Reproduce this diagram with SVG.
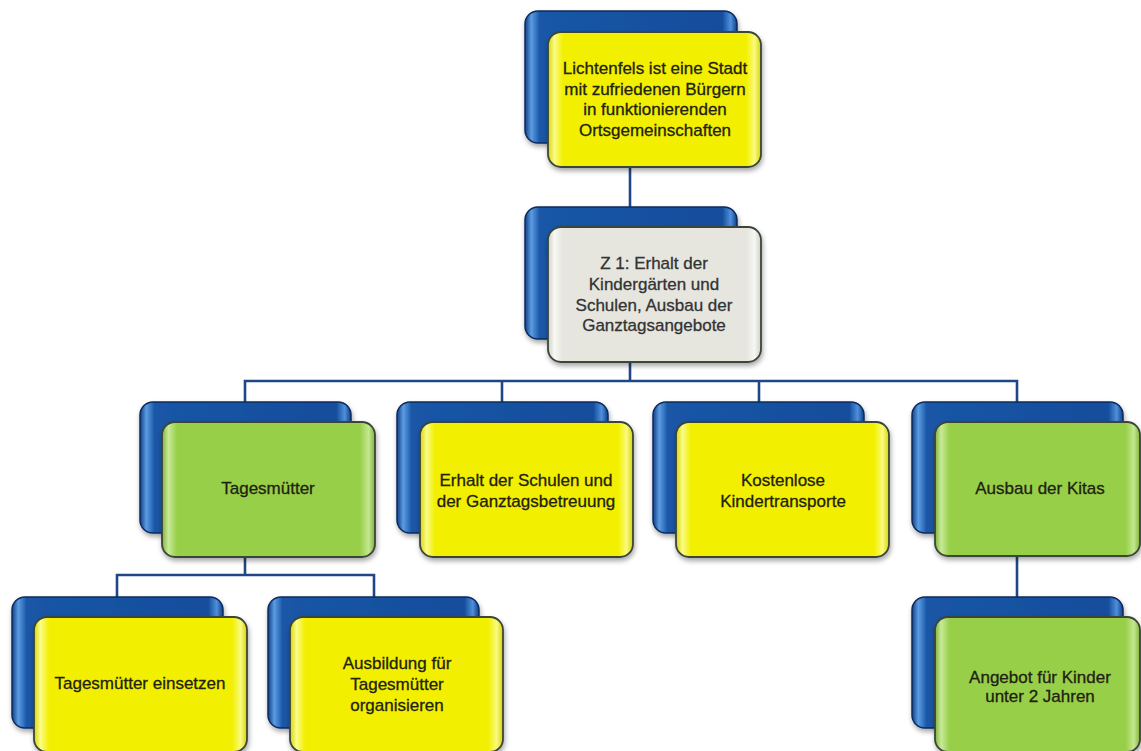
<svg xmlns="http://www.w3.org/2000/svg" width="1141" height="751" viewBox="0 0 1141 751">
<defs>
  <linearGradient id="gBlue" x1="0" y1="0" x2="1" y2="0">
    <stop offset="0" stop-color="#0f3f86"/>
    <stop offset="0.03" stop-color="#5b9ce2"/>
    <stop offset="0.07" stop-color="#1a56a6"/>
    <stop offset="0.93" stop-color="#134d9c"/>
    <stop offset="0.97" stop-color="#4f8fdc"/>
    <stop offset="1" stop-color="#0f3f86"/>
  </linearGradient>
  <linearGradient id="gYellow" x1="0" y1="0" x2="1" y2="0">
    <stop offset="0" stop-color="#d8d400"/>
    <stop offset="0.03" stop-color="#fbfb8a"/>
    <stop offset="0.07" stop-color="#f2f000"/>
    <stop offset="0.93" stop-color="#f2f000"/>
    <stop offset="0.97" stop-color="#fafa80"/>
    <stop offset="1" stop-color="#d8d400"/>
  </linearGradient>
  <linearGradient id="gGreen" x1="0" y1="0" x2="1" y2="0">
    <stop offset="0" stop-color="#7fb33a"/>
    <stop offset="0.03" stop-color="#c8ea98"/>
    <stop offset="0.07" stop-color="#98cf4a"/>
    <stop offset="0.93" stop-color="#98cf4a"/>
    <stop offset="0.97" stop-color="#c4e890"/>
    <stop offset="1" stop-color="#7fb33a"/>
  </linearGradient>
  <linearGradient id="gGray" x1="0" y1="0" x2="1" y2="0">
    <stop offset="0" stop-color="#cfcfc8"/>
    <stop offset="0.03" stop-color="#f8f8f4"/>
    <stop offset="0.07" stop-color="#e6e6df"/>
    <stop offset="0.93" stop-color="#e6e6df"/>
    <stop offset="0.97" stop-color="#f6f6f2"/>
    <stop offset="1" stop-color="#cfcfc8"/>
  </linearGradient>
  <filter id="shadow" x="-10%" y="-10%" width="125%" height="130%">
    <feDropShadow dx="1" dy="3" stdDeviation="2.5" flood-color="#000" flood-opacity="0.35"/>
  </filter>
</defs>
<style>
  .back { fill: url(#gBlue); stroke: #0b2b5e; stroke-width: 1.5; filter: url(#shadow); }
  .front { stroke: #3a4538; stroke-width: 1.8; filter: url(#shadow); }
  .yellow { fill: url(#gYellow); }
  .green { fill: url(#gGreen); }
  .gray { fill: url(#gGray); }
  .conn { fill: none; stroke: #1f4785; stroke-width: 2.6; }
  text { font-family: "Liberation Sans", Arial, sans-serif; font-size: 17px; fill: #1f2210; stroke: #1f2210; stroke-width: 0.3; text-anchor: middle; }
  text.dim { fill: #333333; stroke: #333333; }
</style>

<g id="connectors">
  <path class="conn" d="M630 167 V207"/>
  <path class="conn" d="M630 362 V381"/>
  <path class="conn" d="M245 402 V381 H1017 V402"/>
  <path class="conn" d="M502 381 V402"/>
  <path class="conn" d="M759 381 V402"/>
  <path class="conn" d="M245 557 V575"/>
  <path class="conn" d="M117 597 V575 H374 V597"/>
  <path class="conn" d="M1017 556 V597"/>
</g>

<g id="node-vision">
  <rect class="back" x="525" y="11" width="212" height="132" rx="13"/>
  <rect class="front yellow" x="548" y="32" width="213" height="135" rx="13"/>
  <text x="655" y="74">Lichtenfels ist eine Stadt</text>
  <text x="655" y="95">mit zufriedenen Bürgern</text>
  <text x="655" y="115">in funktionierenden</text>
  <text x="655" y="136">Ortsgemeinschaften</text>
</g>

<g id="node-z1">
  <rect class="back" x="525" y="207" width="212" height="132" rx="13"/>
  <rect class="front gray" x="548" y="227" width="213" height="135" rx="13"/>
  <text class="dim" x="654" y="269">Z 1: Erhalt der</text>
  <text class="dim" x="654" y="290">Kindergärten und</text>
  <text class="dim" x="654" y="311">Schulen, Ausbau der</text>
  <text class="dim" x="654" y="331">Ganztagsangebote</text>
</g>

<g id="node-tagesmuetter">
  <rect class="back" x="140" y="402" width="211" height="131" rx="13"/>
  <rect class="front green" x="162" y="422" width="213" height="135" rx="13"/>
  <text x="268" y="494">Tagesmütter</text>
</g>

<g id="node-schulen">
  <rect class="back" x="397" y="402" width="211" height="131" rx="13"/>
  <rect class="front yellow" x="420" y="422" width="213" height="135" rx="13"/>
  <text x="526" y="486">Erhalt der Schulen und</text>
  <text x="526" y="507">der Ganztagsbetreuung</text>
</g>

<g id="node-transporte">
  <rect class="back" x="653" y="402" width="211" height="131" rx="13"/>
  <rect class="front yellow" x="676" y="422" width="213" height="135" rx="13"/>
  <text x="783" y="486">Kostenlose</text>
  <text x="783" y="507">Kindertransporte</text>
</g>

<g id="node-kitas">
  <rect class="back" x="912" y="402" width="211" height="131" rx="13"/>
  <rect class="front green" x="935" y="422" width="205" height="134" rx="13"/>
  <text x="1040" y="494">Ausbau der Kitas</text>
</g>

<g id="node-einsetzen">
  <rect class="back" x="12" y="597" width="211" height="131" rx="13"/>
  <rect class="front yellow" x="34" y="617" width="213" height="135" rx="13"/>
  <text x="140" y="689">Tagesmütter einsetzen</text>
</g>

<g id="node-ausbildung">
  <rect class="back" x="268" y="597" width="211" height="131" rx="13"/>
  <rect class="front yellow" x="290" y="617" width="213" height="135" rx="13"/>
  <text x="397" y="669">Ausbildung für</text>
  <text x="397" y="690">Tagesmütter</text>
  <text x="397" y="711">organisieren</text>
</g>

<g id="node-angebot">
  <rect class="back" x="912" y="597" width="211" height="131" rx="13"/>
  <rect class="front green" x="935" y="617" width="205" height="135" rx="13"/>
  <text x="1040" y="683">Angebot für Kinder</text>
  <text x="1040" y="702">unter 2 Jahren</text>
</g>
</svg>
